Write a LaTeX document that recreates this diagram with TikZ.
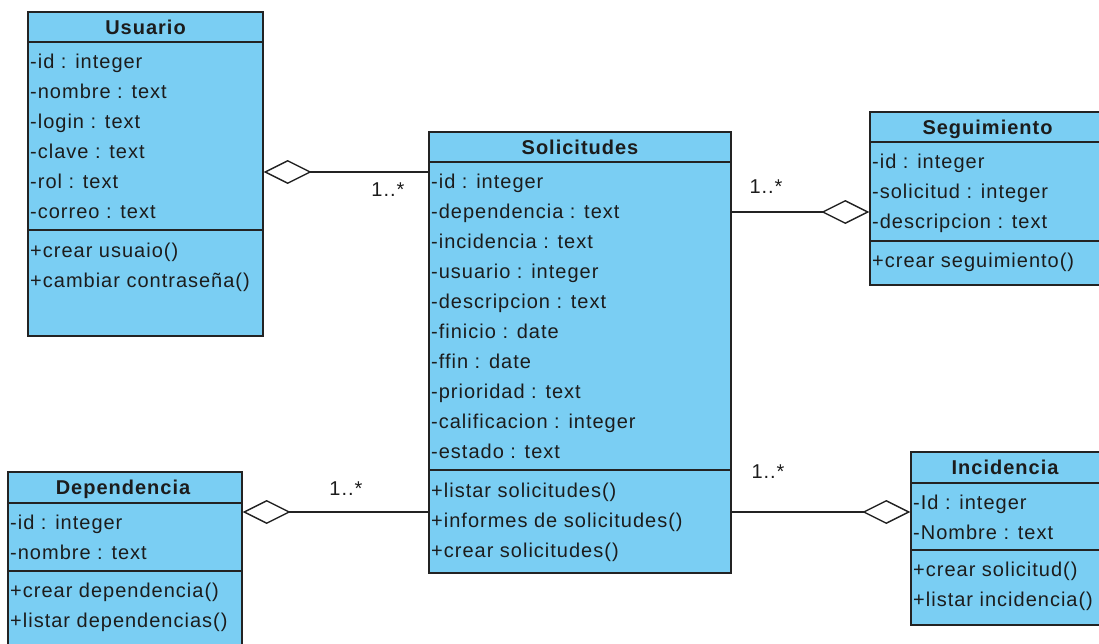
\documentclass[tikz,border=0pt]{standalone}
\usepackage{fontspec}
\setmainfont{Liberation Sans}[LetterSpace=5]
\usetikzlibrary{arrows.meta}
\definecolor{classfill}{RGB}{122,206,243}
\definecolor{ink}{RGB}{28,28,28}
\definecolor{edge}{RGB}{35,35,35}
\tikzset{
  cls/.style={draw=edge, line width=1.4pt, fill=classfill, rectangle, inner sep=0pt},
  ttl/.style={anchor=base, inner sep=0pt, font=\fontsize{20}{24}\selectfont\bfseries, text=ink},
  row/.style={anchor=base west, inner sep=0pt, font=\fontsize{20}{24}\selectfont, text=ink},
  sep/.style={draw=edge, line width=1.4pt},
  agg/.style={draw=edge, line width=1.4pt, {Diamond[length=48pt,width=24pt,fill=white]}-},
  mult/.style={inner sep=0pt, font=\fontsize{20}{24}\selectfont, text=ink}
}
\begin{document}
\begin{tikzpicture}[x=1pt,y=-1pt]
\useasboundingbox (0,0) rectangle (1099,643);
\clip (0,0) rectangle (1099,643);

% ---------- Usuario ----------
\node[cls, minimum width=235pt, minimum height=324pt] (usuario) at (145.5,174) {};
\node[ttl] (usuarioT) at (145.5,34) {Usuario};
\draw[sep] (usuario.west |- 0,42) -- (usuario.east |- 0,42);
\draw[sep] (usuario.west |- 0,230) -- (usuario.east |- 0,230);
\node[row] (u1) at (30,68)  {-id : integer};
\node[row] (u2) at (30,98)  {-nombre : text};
\node[row] (u3) at (30,128) {-login : text};
\node[row] (u4) at (30,158) {-clave : text};
\node[row] (u5) at (30,188) {-rol : text};
\node[row] (u6) at (30,218) {-correo : text};
\node[row] (um1) at (30,257) {+crear usuaio()};
\node[row] (um2) at (30,287) {+cambiar contraseña()};

% ---------- Solicitudes ----------
\node[cls, minimum width=302pt, minimum height=441pt] (solic) at (580,352.5) {};
\node[ttl] (solicT) at (580,154) {Solicitudes};
\draw[sep] (solic.west |- 0,162) -- (solic.east |- 0,162);
\draw[sep] (solic.west |- 0,470) -- (solic.east |- 0,470);
\node[row] (s1)  at (431,188) {-id : integer};
\node[row] (s2)  at (431,218) {-dependencia : text};
\node[row] (s3)  at (431,248) {-incidencia : text};
\node[row] (s4)  at (431,278) {-usuario : integer};
\node[row] (s5)  at (431,308) {-descripcion : text};
\node[row] (s6)  at (431,338) {-finicio : date};
\node[row] (s7)  at (431,368) {-ffin : date};
\node[row] (s8)  at (431,398) {-prioridad : text};
\node[row] (s9)  at (431,428) {-calificacion : integer};
\node[row] (s10) at (431,458) {-estado : text};
\node[row] (sm1) at (431,497) {+listar solicitudes()};
\node[row] (sm2) at (431,527) {+informes de solicitudes()};
\node[row] (sm3) at (431,557) {+crear solicitudes()};

% ---------- Seguimiento ----------
\node[cls, minimum width=234pt, minimum height=173pt] (segui) at (987,198.5) {};
\node[ttl] (seguiT) at (987.5,134) {Seguimiento};
\draw[sep] (segui.west |- 0,142) -- (segui.east |- 0,142);
\draw[sep] (segui.west |- 0,241) -- (segui.east |- 0,241);
\node[row] (g1) at (872,168) {-id : integer};
\node[row] (g2) at (872,198) {-solicitud : integer};
\node[row] (g3) at (872,228) {-descripcion : text};
\node[row] (gm1) at (872,267) {+crear seguimiento()};

% ---------- Dependencia ----------
\node[cls, minimum width=234pt, minimum height=188pt] (depen) at (125,566) {};
\node[ttl] (depenT) at (123,494) {Dependencia};
\draw[sep] (depen.west |- 0,503) -- (depen.east |- 0,503);
\draw[sep] (depen.west |- 0,571) -- (depen.east |- 0,571);
\node[row] (d1) at (10,529) {-id : integer};
\node[row] (d2) at (10,559) {-nombre : text};
\node[row] (dm1) at (10,597) {+crear dependencia()};
\node[row] (dm2) at (10,627) {+listar dependencias()};

% ---------- Incidencia ----------
\node[cls, minimum width=189pt, minimum height=173pt] (incid) at (1005.5,538.5) {};
\node[ttl] (incidT) at (1005,474) {Incidencia};
\draw[sep] (incid.west |- 0,483) -- (incid.east |- 0,483);
\draw[sep] (incid.west |- 0,550) -- (incid.east |- 0,550);
\node[row] (i1) at (913,509) {-Id : integer};
\node[row] (i2) at (913,539) {-Nombre : text};
\node[row] (im1) at (913,576) {+crear solicitud()};
\node[row] (im2) at (913,606) {+listar incidencia()};

% ---------- aggregations ----------
\draw[agg] ([yshift=2pt]usuario.east) -- ([yshift=2pt]usuario.east -| solic.west);
\draw[agg] ([yshift=-13.5pt]segui.west) -- ([yshift=-13.5pt]segui.west -| solic.east);
\draw[agg] ([yshift=54pt]depen.east) -- ([yshift=54pt]depen.east -| solic.west);
\draw[agg] ([yshift=26.5pt]incid.west) -- ([yshift=26.5pt]incid.west -| solic.east);

% ---------- multiplicities ----------
\node[mult] (m1) at (388,190) {1..*};
\node[mult] (m2) at (766,187) {1..*};
\node[mult] (m3) at (346,489) {1..*};
\node[mult] (m4) at (768,472) {1..*};
\end{tikzpicture}
\end{document}
